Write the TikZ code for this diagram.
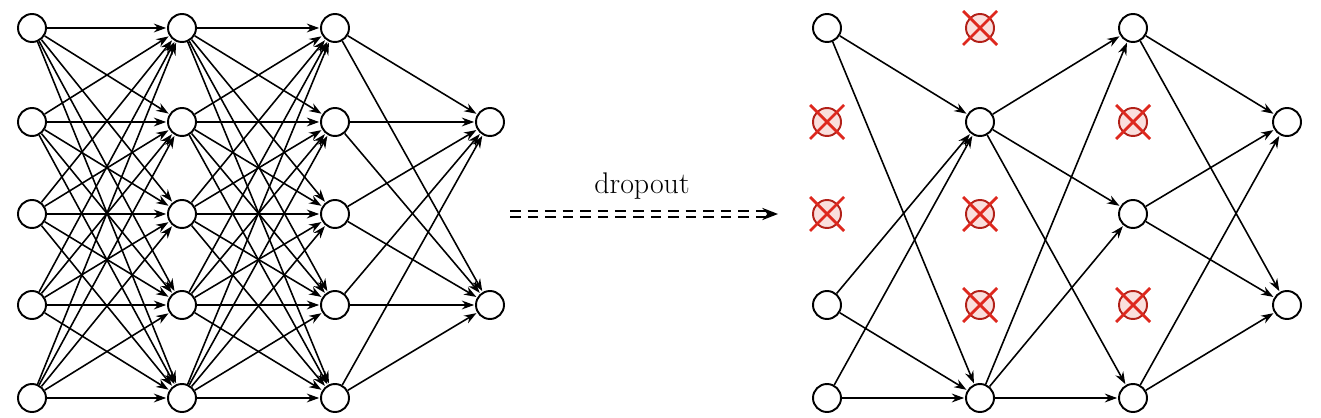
\documentclass[tikz,border=0pt]{standalone}
\usepackage{tikz}
\usetikzlibrary{arrows.meta}

\definecolor{dropred}{RGB}{222,40,30}

\tikzset{
  neuron/.style={circle, draw, line width=1.1pt, minimum size=0.56cm, inner sep=0pt, fill=white},
  dropped/.style={circle, draw=dropred!80!black, line width=1.1pt, minimum size=0.56cm, inner sep=0pt, fill=dropred!15},
  link/.style={-{Stealth[length=7pt,width=5pt]}, line width=0.9pt, shorten >=0.5pt}
}

\begin{document}
\begin{tikzpicture}[x={(0.02cm,0)}, y={(0,-0.02cm)}]
    \useasboundingbox (0,0) rectangle (1321,418);

    % left network: nodes
    \foreach \c/\x in {1/32,2/182,3/335}
      \foreach \r/\y in {1/28,2/122,3/214,4/305,5/398}
        \node[neuron] (L\c-\r) at (\x,\y) {};
    \node[neuron] (L4-1) at (490,122) {};
    \node[neuron] (L4-2) at (490,305) {};

    % left network: links
    \foreach \a in {1,...,5}
      \foreach \b in {1,...,5}
        \draw[link] (L1-\a) -- (L2-\b);
    \foreach \a in {1,...,5}
      \foreach \b in {1,...,5}
        \draw[link] (L2-\a) -- (L3-\b);
    \foreach \a in {1,...,5}
      \foreach \b in {1,2}
        \draw[link] (L3-\a) -- (L4-\b);

    % dropout arrow
    \coordinate (arrS) at (510,214);
    \coordinate (arrE) at (778,214);
    \draw[double, double distance=2.2pt, line width=0.9pt, dash pattern=on 6pt off 4pt,
          -{Stealth[length=9pt,width=7pt]}] (arrS) -- (arrE);
    \node[font=\fontsize{17}{20}\selectfont] (droplbl) at (642,186) {dropout};

    % right network: active nodes
    \node[neuron] (R1-1) at (827,28) {};
    \node[neuron] (R1-4) at (827,305) {};
    \node[neuron] (R1-5) at (827,398) {};
    \node[neuron] (R2-2) at (980,122) {};
    \node[neuron] (R2-5) at (980,398) {};
    \node[neuron] (R3-1) at (1133,28) {};
    \node[neuron] (R3-3) at (1133,214) {};
    \node[neuron] (R3-5) at (1133,398) {};
    \node[neuron] (R4-1) at (1287,122) {};
    \node[neuron] (R4-2) at (1287,305) {};

    % right network: dropped nodes
    \foreach \x/\y [count=\i] in {827/122,827/214,980/28,980/214,980/305,1133/122,1133/305}{
      \node[dropped] (D\i) at (\x,\y) {};
      \draw[dropred, line width=1.6pt] (\x-17,\y-17) -- (\x+17,\y+17);
      \draw[dropred, line width=1.6pt] (\x-17,\y+17) -- (\x+17,\y-17);
    }

    % right network: links
    \foreach \a in {1,4,5}
      \foreach \b in {2,5}
        \draw[link] (R1-\a) -- (R2-\b);
    \foreach \a in {2,5}
      \foreach \b in {1,3,5}
        \draw[link] (R2-\a) -- (R3-\b);
    \foreach \a in {1,3,5}
      \foreach \b in {1,2}
        \draw[link] (R3-\a) -- (R4-\b);
\end{tikzpicture}
\end{document}
